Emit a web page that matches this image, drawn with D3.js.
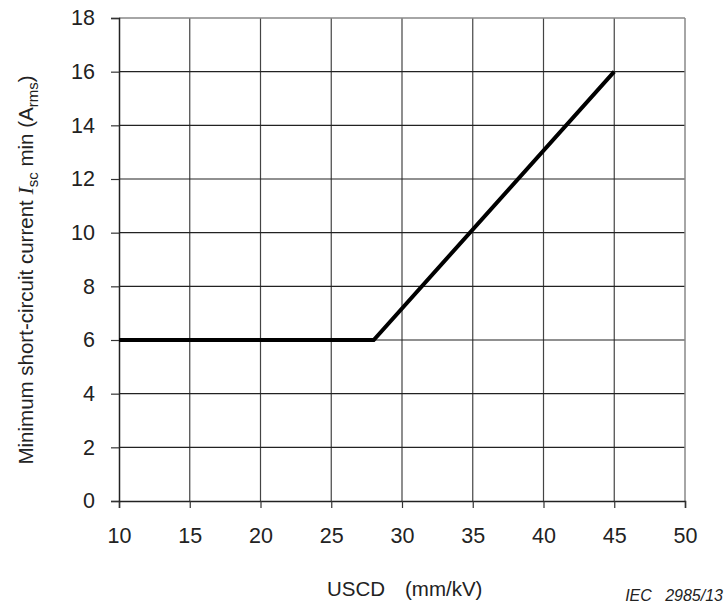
<!DOCTYPE html>
<html>
<head>
<meta charset="utf-8">
<script src="https://cdn.jsdelivr.net/npm/d3@7"></script>
<style>
  body { margin: 0; background: #fff; }
  text { font-family: "Liberation Sans", Arial, sans-serif; fill: #222; }
</style>
</head>
<body>
<svg id="chart"></svg>
<script>
const width = 724;
const height = 603;

// data ----------------------------------------------
const xValues = [10, 28, 45];
const yValues = [6, 6, 16];
const xTicks = [10, 15, 20, 25, 30, 35, 40, 45, 50];
const yTicks = [0, 2, 4, 6, 8, 10, 12, 14, 16, 18];

const margin = { left: 119, right: 39, top: 18, bottom: 102 };

const svg = d3.select('svg#chart')
    .attr('width', width)
    .attr('height', height);

const x = d3.scaleLinear().domain([10, 50]).range([margin.left, width - margin.right]);
const y = d3.scaleLinear().domain([0, 18]).range([height - margin.bottom, margin.top]);

// grid
svg.append('g')
    .selectAll('line')
    .data(xTicks.slice(1, -1))
    .join('line')
    .attr('x1', d => x(d)).attr('x2', d => x(d))
    .attr('y1', y(18)).attr('y2', y(0))
    .attr('stroke', '#444').attr('stroke-width', 1.2);

svg.append('g')
    .selectAll('line')
    .data(yTicks.slice(1, -1))
    .join('line')
    .attr('x1', x(10)).attr('x2', x(50))
    .attr('y1', d => y(d)).attr('y2', d => y(d))
    .attr('stroke', '#222').attr('stroke-width', 1.2);

// top / right frame (lighter)
svg.append('line')
    .attr('x1', x(10)).attr('x2', x(50)).attr('y1', y(18)).attr('y2', y(18))
    .attr('stroke', '#888').attr('stroke-width', 1.5);
svg.append('line')
    .attr('x1', x(50)).attr('x2', x(50)).attr('y1', y(18)).attr('y2', y(0))
    .attr('stroke', '#888').attr('stroke-width', 1.5);

// axes
const xAxis = svg.append('g')
    .attr('transform', `translate(0,${y(0)})`)
    .call(d3.axisBottom(x).tickValues(xTicks).tickSize(7).tickPadding(20).tickFormat(d3.format('d')));
const yAxis = svg.append('g')
    .attr('transform', `translate(${x(10)},0)`)
    .call(d3.axisLeft(y).tickValues(yTicks).tickSize(8).tickPadding(16).tickFormat(d3.format('d')));

[xAxis, yAxis].forEach(a => {
    a.select('.domain').attr('stroke', '#222').attr('stroke-width', 1.5);
    a.selectAll('.tick line').attr('stroke', '#333').attr('stroke-width', 1.2);
    a.selectAll('.tick text')
        .attr('fill', '#222')
        .style('font-size', '21.5px')
        .style('font-family', '"Liberation Sans", Arial, sans-serif');
});

// the curve
const line = d3.line()
    .x((d, i) => x(xValues[i]))
    .y(d => y(d));

svg.append('path')
    .datum(yValues)
    .attr('d', line)
    .attr('fill', 'none')
    .attr('stroke', '#000')
    .attr('stroke-width', 4)
    .attr('stroke-linejoin', 'miter');

// x title
svg.append('text')
    .attr('x', 385).attr('y', 596)
    .attr('text-anchor', 'end')
    .style('font-size', '20.5px')
    .text('USCD');
svg.append('text')
    .attr('x', 405).attr('y', 596)
    .style('font-size', '20.5px')
    .text('(mm/kV)');

// y title
const yt = svg.append('text')
    .attr('transform', 'translate(33,270) rotate(-90)')
    .attr('text-anchor', 'middle')
    .style('font-size', '20.5px');
yt.append('tspan').text('Minimum short-circuit current ');
yt.append('tspan').text('I')
    .style('font-family', '"Liberation Serif", "Times New Roman", serif')
    .style('font-style', 'italic')
    .style('font-size', '22px');
yt.append('tspan').text('sc').attr('dy', 5).style('font-size', '15px');
yt.append('tspan').text(' min (A').attr('dy', -5);
yt.append('tspan').text('rms').attr('dy', 5).style('font-size', '15px');
yt.append('tspan').text(')').attr('dy', -5);

// figure reference
svg.append('text')
    .attr('x', 723)
    .attr('y', 601)
    .attr('text-anchor', 'end')
    .style('font-size', '16px')
    .style('font-style', 'italic')
    .style('white-space', 'pre')
    .text('IEC   2985/13');
</script>
</body>
</html>
